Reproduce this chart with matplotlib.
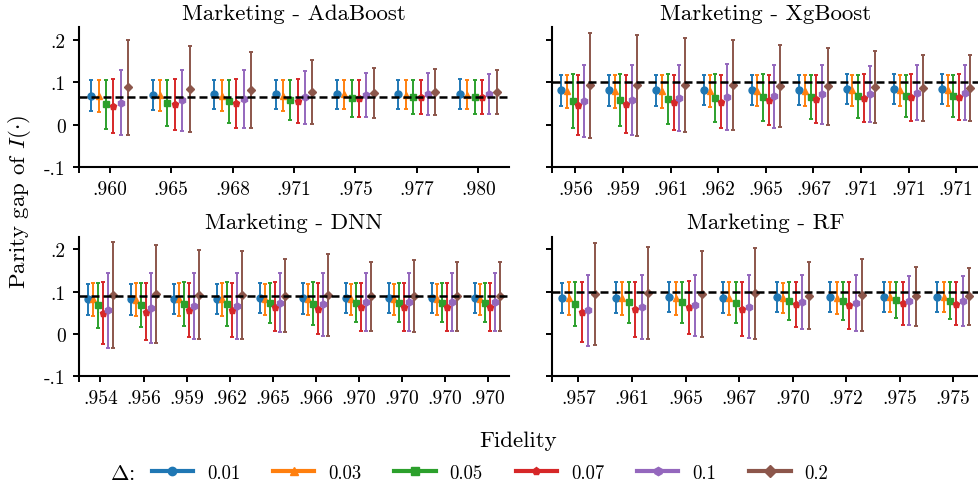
import matplotlib
matplotlib.use("Agg")
import matplotlib.pyplot as plt
from matplotlib.lines import Line2D
import numpy as np

plt.rcParams['font.family'] = 'serif'
plt.rcParams['font.serif'] = ['cmr10']
plt.rcParams['mathtext.fontset'] = 'cm'
plt.rcParams['axes.unicode_minus'] = False
plt.rcParams['axes.formatter.use_mathtext'] = True

DELTAS = ["0.01", "0.03", "0.05", "0.07", "0.1", "0.2"]
COLORS = ["#1f77b4", "#ff7f0e", "#2ca02c", "#d62728", "#9467bd", "#8c564b"]
MARKERS = ["o", "^", "s", "p", "h", "D"]
MSIZES = [5, 5, 4.5, 5, 5, 4.5]

Y_TICKS = [-0.1, 0.0, 0.1, 0.2]
Y_TICKLABELS = ["-.1", "0", ".1", ".2"]

# ---------------- AdaBoost ----------------
ADA_FID = [".960", ".965", ".968", ".971", ".975", ".977", ".980"]
ADA_MEAN = [
    [.068, .070, .071, .071, .071, .071, .072],
    [.067, .069, .068, .068, .071, .070, .070],
    [.048, .051, .055, .058, .062, .065, .066],
    [.043, .048, .050, .055, .062, .065, .066],
    [.052, .057, .060, .064, .070, .072, .073],
    [.0875, .084, .081, .077, .075, .077, .076],
]
ADA_ERR = [
    [.037, .035, .035, .035, .034, .035, .035],
    [.037, .037, .037, .037, .034, .034, .034],
    [.058, .055, .051, .048, .044, .041, .040],
    [.064, .060, .057, .052, .044, .041, .040],
    [.076, .072, .068, .0625, .052, .049, .047],
    [.1125, .101, .090, .076, .059, .054, .052],
]
ADA_REF = 0.064

# ---------------- XgBoost ----------------
XGB_FID = [".956", ".959", ".961", ".962", ".965", ".967", ".971", ".971", ".971"]
XGB_MEAN = [
    [.081, .081, .081, .082, .082, .082, .084, .084, .084],
    [.078, .078, .078, .079, .080, .080, .081, .081, .081],
    [.056, .058, .060, .062, .064, .066, .067, .068, .068],
    [.047, .049, .053, .054, .058, .061, .063, .064, .065],
    [.055, .058, .062, .065, .067, .071, .072, .075, .075],
    [.093, .093, .094, .093, .091, .090, .089, .086, .086],
]
XGB_ERR = [
    [.037, .037, .037, .036, .035, .035, .035, .035, .035],
    [.038, .038, .038, .038, .037, .037, .037, .037, .037],
    [.063, .061, .059, .057, .055, .052, .051, .049, .049],
    [.071, .069, .065, .063, .060, .057, .057, .055, .055],
    [.085, .082, .078, .077, .074, .069, .067, .065, .065],
    [.124, .119, .111, .106, .097, .090, .085, .078, .078],
]
XGB_REF = 0.100

# ---------------- DNN ----------------
DNN_FID = [".954", ".956", ".959", ".962", ".965", ".966", ".970", ".970", ".970", ".970"]
DNN_MEAN = [
    [.082, .082, .083, .083, .085, .084, .085, .085, .085, .085],
    [.082, .081, .082, .082, .082, .082, .082, .082, .082, .082],
    [.068, .068, .071, .071, .073, .072, .074, .074, .074, .074],
    [.049, .053, .056, .057, .064, .060, .064, .064, .064, .064],
    [.056, .062, .066, .067, .074, .070, .075, .075, .075, .075],
    [.093, .094, .093, .093, .091, .092, .089, .089, .089, .089],
]
DNN_ERR = [
    [.037, .037, .036, .036, .035, .036, .035, .035, .035, .035],
    [.039, .039, .039, .039, .037, .037, .037, .037, .037, .037],
    [.053, .052, .051, .051, .047, .050, .046, .046, .046, .046],
    [.073, .068, .064, .064, .058, .060, .056, .057, .056, .056],
    [.088, .083, .078, .078, .070, .074, .069, .069, .069, .069],
    [.125, .116, .105, .104, .087, .096, .082, .085, .082, .082],
]
DNN_REF = 0.091

# ---------------- RF ----------------
RF_FID = [".957", ".961", ".965", ".967", ".970", ".972", ".975", ".975"]
RF_MEAN = [
    [.085, .086, .087, .086, .088, .087, .088, .088],
    [.084, .084, .084, .084, .085, .085, .087, .087],
    [.072, .075, .075, .074, .078, .077, .080, .079],
    [.052, .059, .063, .060, .070, .068, .073, .072],
    [.056, .064, .068, .065, .076, .074, .079, .078],
    [.094, .096, .095, .096, .091, .093, .089, .089],
]
RF_ERR = [
    [.036, .036, .035, .036, .035, .035, .035, .035],
    [.038, .038, .038, .038, .035, .037, .035, .035],
    [.052, .049, .048, .049, .045, .045, .043, .043],
    [.072, .065, .062, .064, .054, .056, .051, .051],
    [.084, .076, .072, .075, .064, .066, .058, .058],
    [.121, .109, .101, .107, .080, .085, .069, .068],
]
RF_REF = 0.099

W, H = 979, 489
fig = plt.figure(figsize=(W / 100, H / 100), dpi=100)


def px_axes(x0, x1, y0, y1):
    return fig.add_axes([x0 / W, 1 - y1 / H, (x1 - x0) / W, (y1 - y0) / H])


axes = [
    (px_axes(79, 509, 28, 168), "Marketing - AdaBoost", ADA_FID, ADA_MEAN, ADA_ERR, ADA_REF, True),
    (px_axes(551.7, 980, 28, 168), "Marketing - XgBoost", XGB_FID, XGB_MEAN, XGB_ERR, XGB_REF, False),
    (px_axes(79, 509, 237.7, 377.3), "Marketing - DNN", DNN_FID, DNN_MEAN, DNN_ERR, DNN_REF, True),
    (px_axes(551.7, 980, 237.7, 377.3), "Marketing - RF", RF_FID, RF_MEAN, RF_ERR, RF_REF, False),
]

STEP = 0.12
for ax, title, fid, means, errs, ref, show_y in axes:
    n = len(fid)
    base = np.arange(n)
    for i in range(len(DELTAS)):
        x = base + (i - 2.5) * STEP
        ax.errorbar(x, means[i], yerr=errs[i], fmt=MARKERS[i], color=COLORS[i],
                    ms=MSIZES[i], elinewidth=1.4, capsize=1.6, capthick=1.4,
                    zorder=3)
    ax.axhline(ref, color="black", lw=1.8, ls=(0, (3.2, 1.6)), zorder=5)
    ax.set_xlim(-0.5, n - 0.5)
    ax.set_ylim(-0.1, 0.23)
    ax.set_xticks([-0.5] + list(base))
    ax.set_xticklabels([""] + fid, fontsize=14)
    ax.set_yticks(Y_TICKS)
    if show_y:
        ax.set_yticklabels(Y_TICKLABELS, fontsize=14)
    else:
        ax.set_yticklabels([])
    ax.set_title(title, fontsize=16.5, pad=6)
    for s in ["top", "right"]:
        ax.spines[s].set_visible(False)
    for s in ["left", "bottom"]:
        ax.spines[s].set_linewidth(1.5)
    ax.tick_params(axis="both", width=1.4, length=4.5, pad=5)

fig.text(20 / W, 1 - 202 / H, r"Parity gap of $I(\cdot)$", rotation=90,
         fontsize=16.5, ha="center", va="center")
fig.text(518 / W, 1 - 441 / H, "Fidelity", fontsize=16.5, ha="center", va="center")
fig.text(110 / W, 1 - 474 / H, r"$\Delta$:", fontsize=16, ha="left", va="center")

handles = [Line2D([], [], color=COLORS[i], marker=MARKERS[i], lw=3, ms=6)
           for i in range(len(DELTAS))]
fig.legend(handles, DELTAS, loc="center left", bbox_to_anchor=(146 / W, 1 - 474 / H),
           ncol=6, frameon=False, fontsize=13.5, handlelength=2.2,
           handletextpad=0.75, columnspacing=1.75, borderaxespad=0, borderpad=0.3)

fig.savefig("out.png", dpi=100)
